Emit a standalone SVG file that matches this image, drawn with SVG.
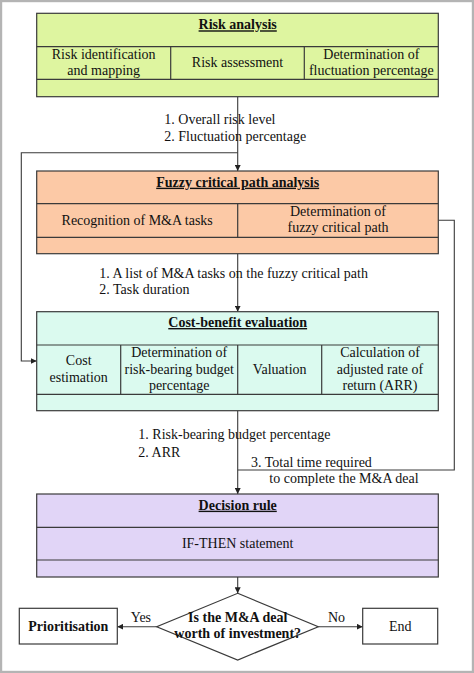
<svg xmlns="http://www.w3.org/2000/svg" width="474" height="673" viewBox="0 0 474 673">
<defs>
<marker id="ah" viewBox="0 0 10 10" refX="10" refY="5" markerWidth="6" markerHeight="6" markerUnits="userSpaceOnUse" orient="auto">
<path d="M0,0 L10,5 L0,10 z" fill="#222"/>
</marker>
<style>
.b{stroke:#3a3a3a;stroke-width:1.2}
.t{font-family:"Liberation Serif","Times New Roman",serif;font-size:14px;fill:#111}
.h{font-weight:bold;text-decoration:underline}
.bd{font-weight:bold}
.c{text-anchor:middle}
.ln{fill:none;stroke:#3a3a3a;stroke-width:1.1}
</style>
</defs>
<rect x="0" y="0" width="474" height="673" fill="#fff"/>
<rect x="1" y="1" width="472" height="671" fill="none" stroke="#b4b4b4" stroke-width="2.4"/>

<g id="connectors">
<line class="ln" x1="237.7" y1="96.7" x2="237.7" y2="171" marker-end="url(#ah)"/>
<polyline class="ln" points="237.7,152.7 21.3,152.7 21.3,361 36.7,361" marker-end="url(#ah)"/>
<line class="ln" x1="237.7" y1="253.7" x2="237.7" y2="311.7" marker-end="url(#ah)"/>
<polyline class="ln" points="438.3,220.3 454.3,220.3 454.3,470 237.7,470"/>
<line class="ln" x1="237.7" y1="410.7" x2="237.7" y2="494" marker-end="url(#ah)"/>
<line class="ln" x1="237.7" y1="577" x2="237.7" y2="593.3" marker-end="url(#ah)"/>
<line class="ln" x1="156.7" y1="626.7" x2="117.3" y2="626.7" marker-end="url(#ah)"/>
<line class="ln" x1="318.3" y1="626.7" x2="362.7" y2="626.7" marker-end="url(#ah)"/>
<text class="t" x="164.3" y="124.3">1. Overall risk level</text>
<text class="t" x="164.3" y="140.7">2. Fluctuation percentage</text>
<text class="t" x="99.3" y="278.3">1. A list of M&amp;A tasks on the fuzzy critical path</text>
<text class="t" x="99.3" y="294.3">2. Task duration</text>
<text class="t" x="138.3" y="439.3">1. Risk-bearing budget percentage</text>
<text class="t" x="138.3" y="456.7">2. ARR</text>
<text class="t" x="251" y="466.7">3. Total time required</text>
<text class="t" x="269.3" y="483.3">to complete the M&amp;A deal</text>
<text class="t" x="130.7" y="621.7">Yes</text>
<text class="t" x="328" y="621.7">No</text>
</g>

<g id="risk-analysis">
<rect class="b" x="36.7" y="13.3" width="401.6" height="83.4" fill="#def5a0"/>
<line class="b" x1="36.7" y1="46.7" x2="438.3" y2="46.7"/>
<line class="b" x1="36.7" y1="79.3" x2="438.3" y2="79.3"/>
<line class="b" x1="170.7" y1="46.7" x2="170.7" y2="79.3"/>
<line class="b" x1="304.3" y1="46.7" x2="304.3" y2="79.3"/>
<text class="t h c" x="237.7" y="29.3">Risk analysis</text>
<text class="t c" x="103.7" y="58.5">Risk identification</text>
<text class="t c" x="103.7" y="74.5">and mapping</text>
<text class="t c" x="237.5" y="67">Risk assessment</text>
<text class="t c" x="371.3" y="58.5">Determination of</text>
<text class="t c" x="371.3" y="74.5">fluctuation percentage</text>
</g>

<g id="fuzzy-critical-path">
<rect class="b" x="36.7" y="171" width="401.6" height="82.7" fill="#fcc9a6"/>
<line class="b" x1="36.7" y1="203.7" x2="438.3" y2="203.7"/>
<line class="b" x1="36.7" y1="237.3" x2="438.3" y2="237.3"/>
<line class="b" x1="237.7" y1="203.7" x2="237.7" y2="237.3"/>
<text class="t h c" x="237.7" y="186.7">Fuzzy critical path analysis</text>
<text class="t c" x="137.2" y="225">Recognition of M&amp;A tasks</text>
<text class="t c" x="338" y="216.3">Determination of</text>
<text class="t c" x="338" y="232.3">fuzzy critical path</text>
</g>

<g id="cost-benefit">
<rect class="b" x="36.7" y="311.7" width="401.6" height="99" fill="#dbfaef"/>
<line class="b" x1="36.7" y1="345" x2="438.3" y2="345"/>
<line class="b" x1="36.7" y1="394.3" x2="438.3" y2="394.3"/>
<line class="b" x1="120.7" y1="345" x2="120.7" y2="394.3"/>
<line class="b" x1="237.7" y1="345" x2="237.7" y2="394.3"/>
<line class="b" x1="321.7" y1="345" x2="321.7" y2="394.3"/>
<text class="t h c" x="237.7" y="327">Cost-benefit evaluation</text>
<text class="t c" x="78.7" y="365">Cost</text>
<text class="t c" x="78.7" y="381.7">estimation</text>
<text class="t c" x="179.2" y="357">Determination of</text>
<text class="t c" x="179.2" y="373.5">risk-bearing budget</text>
<text class="t c" x="179.2" y="390">percentage</text>
<text class="t c" x="279.7" y="374">Valuation</text>
<text class="t c" x="380" y="357">Calculation of</text>
<text class="t c" x="380" y="373.5">adjusted rate of</text>
<text class="t c" x="380" y="390">return (ARR)</text>
</g>

<g id="decision-rule">
<rect class="b" x="36.7" y="494" width="401.6" height="83" fill="#e1d5f7"/>
<line class="b" x1="36.7" y1="527.3" x2="438.3" y2="527.3"/>
<line class="b" x1="36.7" y1="560" x2="438.3" y2="560"/>
<text class="t h c" x="237.7" y="509.7">Decision rule </text>
<text class="t c" x="237.7" y="548">IF-THEN statement</text>
</g>

<g id="decision">
<polygon class="b" points="237.7,593.3 318.3,626.7 237.7,660 156.7,626.7" fill="#fff"/>
<text class="t bd c" x="237.7" y="621.7">Is the M&amp;A deal</text>
<text class="t bd c" x="237.7" y="638.3">worth of investment?</text>
</g>

<g id="prioritisation">
<rect class="b" x="19.3" y="608.3" width="98" height="35.7" fill="#fff"/>
<text class="t bd c" x="68.3" y="631">Prioritisation</text>
</g>

<g id="end">
<rect class="b" x="362.7" y="608.3" width="75" height="35.7" fill="#fff"/>
<text class="t c" x="400.2" y="631">End</text>
</g>
</svg>
